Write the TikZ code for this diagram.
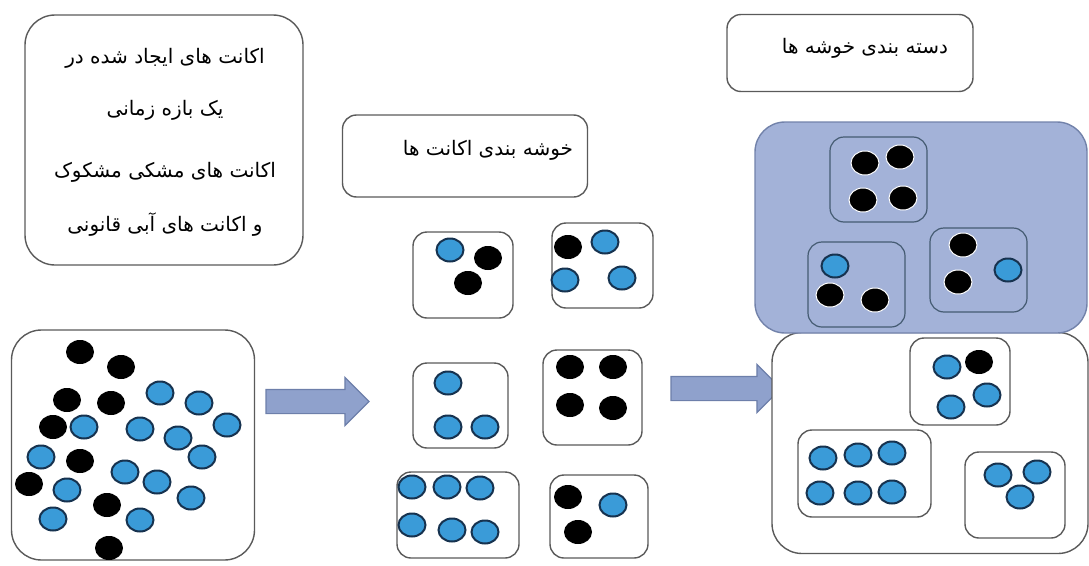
\documentclass[tikz,border=0pt]{standalone}
\usepackage{fontspec}
\newfontfamily\arabicfont[Script=Arabic]{DejaVu Sans}
\TeXXeTstate=1
\usetikzlibrary{shapes.geometric,shapes.arrows}
\definecolor{dotblue}{HTML}{3A9BD8}
\definecolor{dotline}{HTML}{16324F}
\definecolor{arrowfill}{HTML}{8FA1CC}
\definecolor{arrowline}{HTML}{6D7FAA}
\definecolor{groupfill}{HTML}{A3B2D8}
\definecolor{groupline}{HTML}{7282AA}
\definecolor{boxline}{HTML}{5A5A5A}
\tikzset{
  cbox/.style={draw=boxline, line width=1.4pt, rounded corners=14pt, fill=white, inner sep=0pt},
  gbox/.style={draw=groupline, line width=1.4pt, rounded corners=30pt, fill=groupfill, inner sep=0pt},
  ibox/.style={draw=dotline!80, line width=1.2pt, rounded corners=14pt, fill=groupfill, inner sep=0pt},
  bdot/.style={ellipse, fill=black, minimum width=28pt, minimum height=24pt, inner sep=0pt},
  wbdot/.style={bdot, draw=white, line width=1pt},
  udot/.style={ellipse, fill=dotblue, draw=dotline, line width=2pt, minimum width=27pt, minimum height=23pt, inner sep=0pt},
  blockarrow/.style={single arrow, draw=arrowline, line width=1.2pt, fill=arrowfill, inner xsep=0pt, inner ysep=11.5pt, single arrow head extend=12pt, text height=0pt, text depth=0pt},
  label/.style={font=\arabicfont\fontsize{20}{24}\selectfont, inner sep=0pt}
}
\begin{document}
\begin{tikzpicture}[x=1pt,y=-1pt]
\useasboundingbox (0,0) rectangle (1089,565);

% Texte
\node[cbox, rounded corners=30pt, minimum width=278pt, minimum height=250pt] (info) at (164,140) {};
\node[label] (info1) at (165,58) {\beginR اکانت های ایجاد شده در\endR};
\node[label] (info2) at (165,110) {\beginR یک بازه زمانی\endR};
\node[label] (info3) at (165,172) {\beginR اکانت های مشکی مشکوک\endR};
\node[label] (info4) at (165,225) {\beginR و اکانت های آبی قانونی\endR};

\node[cbox, minimum width=245pt, minimum height=82pt] (clust) at (465,156) {};
\node[label] (clusttxt) at (488,150) {\beginR خوشه بندی اکانت ها\endR};

\node[cbox, minimum width=246pt, minimum height=77pt] (categ) at (850,53) {};
\node[label] (categtxt) at (865,48) {\beginR دسته بندی خوشه ها\endR};

% Todas las cuentas
\node[cbox, rounded corners=30pt, minimum width=243pt, minimum height=230pt] (all) at (133,445) {};
\foreach \x/\y [count=\i] in {80/352,121/367,67/400,111/403,53/427,80/461,29/484,107/505,109/548}
  \node[bdot] (ab\i) at (\x,\y) {};
\foreach \x/\y [count=\i] in {160/393,199/403,227/425,84/427,140/429,178/438,41/457,202/457,125/472,157/482,67/490,191/498,53/519,140/520}
  \node[udot] (au\i) at (\x,\y) {};

% Flechas
\node[blockarrow, minimum height=103pt] (arrowA) at (311.5,401.5) {};
\node[blockarrow, minimum height=110pt] (arrowB) at (720,388.5) {};

% Clusters
\node[cbox, minimum width=100pt, minimum height=86pt] (cA) at (463,275) {};
\node[udot] (cA1) at (450,250) {};
\node[bdot] (cA2) at (488,258) {};
\node[bdot] (cA3) at (468,283) {};

\node[cbox, minimum width=101pt, minimum height=85pt] (cB) at (602.5,265.5) {};
\node[bdot] (cB1) at (568,247) {};
\node[udot] (cB2) at (605,242) {};
\node[udot] (cB3) at (565,280) {};
\node[udot] (cB4) at (622,278) {};

\node[cbox, minimum width=95pt, minimum height=85pt] (cC) at (460.5,405.5) {};
\node[udot] (cC1) at (448,383) {};
\node[udot] (cC2) at (448,427) {};
\node[udot] (cC3) at (485,427) {};

\node[cbox, minimum width=99pt, minimum height=95pt] (cD) at (592.5,397.5) {};
\foreach \x/\y [count=\i] in {570/367,613/367,570/405,613/408}
  \node[bdot] (cD\i) at (\x,\y) {};

\node[cbox, minimum width=122pt, minimum height=86pt] (cE) at (458,515) {};
\foreach \x/\y [count=\i] in {412/487,447/487,480/488,412/525,452/530,485/532}
  \node[udot] (cE\i) at (\x,\y) {};

\node[cbox, minimum width=98pt, minimum height=83pt] (cF) at (599,516.5) {};
\node[bdot] (cF1) at (568,497) {};
\node[udot] (cF2) at (613,505) {};
\node[bdot] (cF3) at (578,532) {};

% Grupos
\node[cbox, rounded corners=30pt, minimum width=316pt, minimum height=221pt] (legit) at (930,443) {};
\node[gbox, minimum width=332pt, minimum height=211pt] (susp) at (921,227.5) {};

\node[ibox, minimum width=97pt, minimum height=85pt] (gA) at (878.5,179.5) {};
\foreach \x/\y [count=\i] in {865/163,900/157,863/200,903/198}
  \node[wbdot] (gA\i) at (\x,\y) {};

\node[ibox, minimum width=97pt, minimum height=85pt] (gB) at (856.5,284.5) {};
\node[udot] (gB1) at (835,266) {};
\node[wbdot] (gB2) at (830,295) {};
\node[wbdot] (gB3) at (875,300) {};

\node[ibox, minimum width=97pt, minimum height=84pt] (gC) at (978.5,270) {};
\node[wbdot] (gC1) at (963,245) {};
\node[wbdot] (gC2) at (958,282) {};
\node[udot] (gC3) at (1008,270) {};

\node[cbox, minimum width=100pt, minimum height=87pt] (gD) at (960,381.5) {};
\node[udot] (gD1) at (947,367) {};
\node[bdot] (gD2) at (979,362) {};
\node[udot] (gD3) at (987,395) {};
\node[udot] (gD4) at (951,407) {};

\node[cbox, minimum width=133pt, minimum height=87pt] (gE) at (864.5,473.5) {};
\foreach \x/\y [count=\i] in {823/458,858/455,892/453,820/493,858/493,892/492}
  \node[udot] (gE\i) at (\x,\y) {};

\node[cbox, minimum width=100pt, minimum height=86pt] (gF) at (1015,495) {};
\node[udot] (gF1) at (998,475) {};
\node[udot] (gF2) at (1037,472) {};
\node[udot] (gF3) at (1020,497) {};

\end{tikzpicture}
\end{document}
